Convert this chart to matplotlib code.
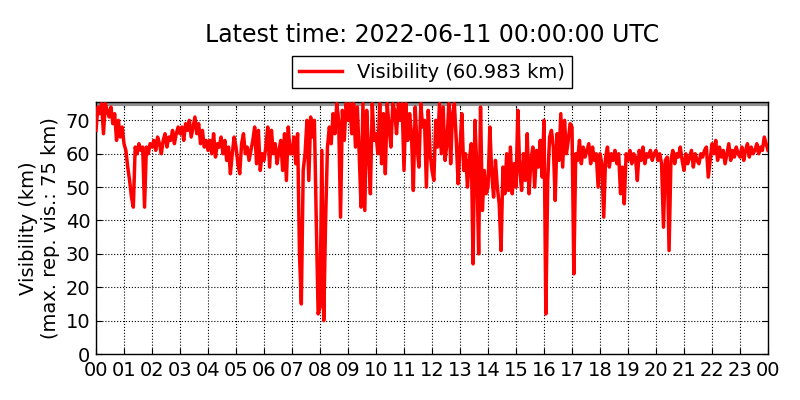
import numpy as np
import matplotlib
matplotlib.use("Agg")
import matplotlib.pyplot as plt

# Visibility (km), one value every 4 minutes, one list per hour (00..23) + final value at 24:00
step_minutes = 4
h00 = [67, 74, 72, 75, 66, 75, 73, 71, 74, 69, 72, 64, 70, 65, 68]
h01 = [63, 61, 56, 52, 47, 44, 62, 60, 63, 61, 62, 44, 62, 60, 63]
h02 = [62, 64, 61, 65, 63, 60, 64, 66, 62, 65, 64, 67, 63, 66, 68]
h03 = [66, 68, 64, 69, 67, 70, 65, 68, 71, 66, 69, 63, 67, 62, 64]
h04 = [61, 64, 60, 66, 59, 63, 62, 65, 60, 64, 58, 62, 54, 60, 65]
h05 = [62, 57, 54, 63, 66, 60, 62, 58, 61, 64, 68, 57, 67, 55, 60]
h06 = [58, 62, 68, 56, 67, 60, 63, 57, 61, 64, 55, 66, 52, 68, 60]
h07 = [60, 65, 57, 66, 30, 15, 55, 60, 70, 52, 71, 65, 70, 40, 12]
h08 = [14, 61, 10, 40, 62, 68, 63, 72, 66, 75, 70, 41, 73, 64, 75]
h09 = [70, 75, 66, 75, 62, 74, 60, 44, 75, 43, 73, 61, 48, 75, 64]
h10 = [66, 60, 75, 57, 72, 54, 75, 68, 62, 75, 73, 66, 75, 70, 75]
h11 = [55, 75, 64, 72, 66, 49, 74, 62, 56, 75, 68, 70, 50, 73, 60]
h12 = [55, 52, 70, 62, 75, 60, 74, 58, 63, 75, 57, 72, 75, 64, 51]
h13 = [62, 72, 55, 60, 50, 58, 63, 27, 70, 56, 30, 74, 43, 55, 48]
h14 = [50, 68, 54, 47, 58, 50, 45, 31, 56, 48, 60, 49, 62, 48, 57]
h15 = [50, 73, 55, 49, 60, 52, 66, 48, 58, 62, 50, 61, 56, 64, 53]
h16 = [70, 12, 52, 65, 67, 62, 46, 66, 58, 72, 56, 70, 60, 64, 69]
h17 = [68, 24, 60, 58, 64, 57, 62, 59, 61, 63, 57, 62, 58, 60, 50]
h18 = [60, 57, 41, 59, 62, 56, 60, 58, 61, 57, 60, 48, 56, 45, 60]
h19 = [58, 61, 57, 60, 59, 52, 61, 58, 62, 57, 60, 59, 61, 58, 60]
h20 = [61, 58, 60, 57, 38, 58, 59, 31, 58, 61, 57, 60, 59, 62, 58]
h21 = [55, 60, 57, 59, 61, 56, 60, 58, 57, 60, 59, 61, 62, 53, 58]
h22 = [63, 60, 64, 58, 62, 59, 61, 57, 60, 63, 58, 61, 59, 62, 60]
h23 = [59, 62, 58, 61, 63, 59, 62, 60, 61, 63, 60, 62, 61, 65, 63]
final_value = [61]

max_rep_vis = 75
latest_value = 60.983
tick_labels = ["00", "01", "02", "03", "04", "05", "06", "07", "08", "09", "10", "11",
               "12", "13", "14", "15", "16", "17", "18", "19", "20", "21", "22", "23", "00"]
y_ticks = [0, 10, 20, 30, 40, 50, 60, 70]

vis = np.array(h00 + h01 + h02 + h03 + h04 + h05 + h06 + h07 + h08 + h09 + h10 + h11 +
               h12 + h13 + h14 + h15 + h16 + h17 + h18 + h19 + h20 + h21 + h22 + h23 +
               final_value, dtype=float)
hours = np.arange(len(vis)) * step_minutes / 60.0

fig = plt.figure(figsize=(8, 4), dpi=100)
ax = fig.add_axes([0.12, 0.115, 0.84, 0.63])

ax.axhline(max_rep_vis, color="#909090", lw=3, zorder=1)
line, = ax.plot(hours, vis, color="red", lw=2.5, zorder=3,
                label=f"Visibility ({latest_value:.3f} km)")

ax.set_xlim(0, 24)
ax.set_ylim(0, 75.5)
ax.set_xticks(range(25))
ax.set_xticklabels(tick_labels, fontsize=14)
ax.set_yticks(y_ticks)
ax.set_yticklabels([str(v) for v in y_ticks], fontsize=14)
ax.tick_params(direction="in", top=True, right=True, length=4, width=0.8)
ax.tick_params(axis="x", pad=5)
ax.tick_params(axis="y", pad=4)
ax.grid(True, color="black", linestyle=":", linewidth=0.8)
ax.set_axisbelow(True)
for s in ax.spines.values():
    s.set_linewidth(1.0)

ax.set_ylabel("Visibility (km)\n(max. rep. vis.: 75 km)", fontsize=14, labelpad=4)

fig.text(0.54, 0.913, "Latest time: 2022-06-11 00:00:00 UTC", ha="center", va="center", fontsize=17)
leg = fig.legend(handles=[line], loc="center", bbox_to_anchor=(0.54, 0.82), fontsize=14,
                 fancybox=False, framealpha=1, edgecolor="black", handlelength=2.2,
                 borderpad=0.35)
leg.get_frame().set_linewidth(1.0)

fig.savefig("out.png", dpi=100)
